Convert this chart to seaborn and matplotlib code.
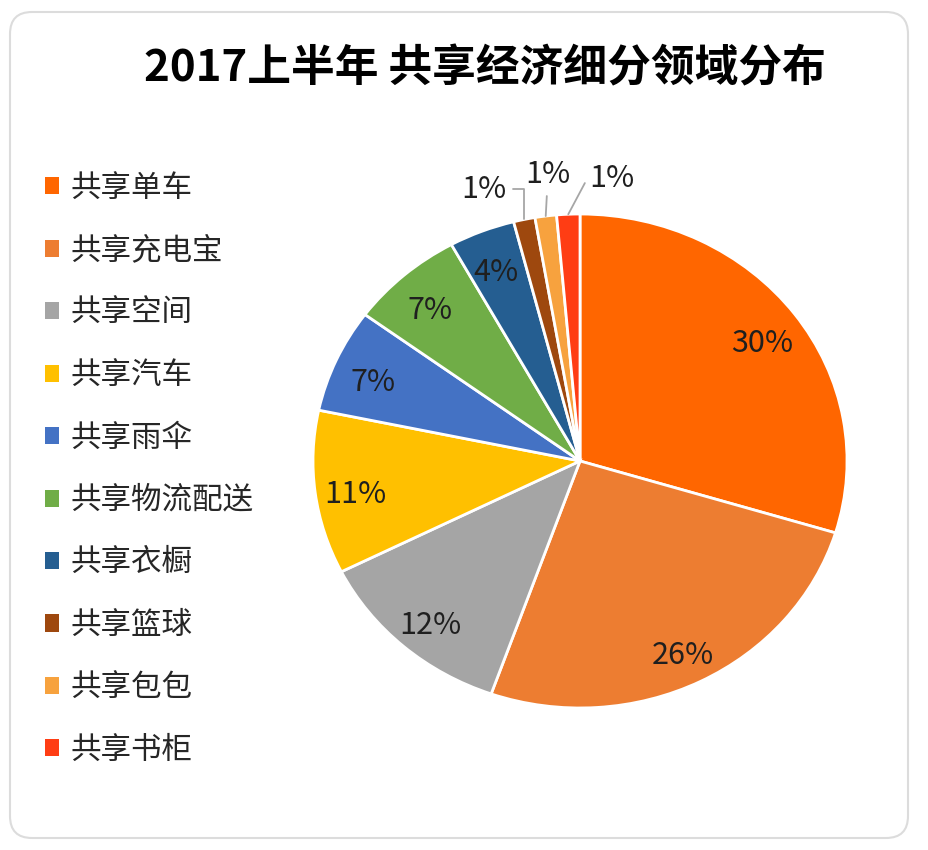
import numpy as np
import matplotlib.pyplot as plt
import matplotlib.patches as mpatches
import matplotlib.transforms as mtransforms
import seaborn as sns

# data (slice sizes in %)
categories = ['共享单车', '共享充电宝', '共享空间', '共享汽车', '共享雨伞',
              '共享物流配送', '共享衣橱', '共享篮球', '共享包包', '共享书柜']
shares = [29.7, 25.7, 12.2, 10.7, 6.8, 6.9, 4.0, 1.3, 1.3, 1.4]
colors = ['#FF6600', '#ED7D31', '#A5A5A5', '#FFC000', '#4472C4',
          '#70AD47', '#255E91', '#9E480E', '#F7A23E', '#FF3D14']
title = '2017上半年 共享经济细分领域分布'

# where the small-slice labels sit (offset from pie centre, in radii)
small_label_pos = {7: (-0.36, 1.10), 8: (-0.12, 1.16), 9: (0.12, 1.145)}
leader_style = {7: 'angle,angleA=0,angleB=90,rad=0',
                8: 'arc3',
                9: 'angle,angleA=0,angleB=62,rad=0'}

sns.set_theme(style='white')
plt.rcParams['font.family'] = ['Noto Sans CJK SC', 'DejaVu Sans']

fig = plt.figure(figsize=(9.29, 8.5), dpi=100)
ax = fig.add_axes([0.2507, 0.0799, 0.7473, 0.7555])

def pct_fmt(p):
    return f'{p:.0f}%' if p >= 2 else ''

wedges, texts, autotexts = ax.pie(
    shares, colors=colors, startangle=90, counterclock=False,
    autopct=pct_fmt, pctdistance=0.85,
    wedgeprops=dict(edgecolor='white', linewidth=2),
    textprops=dict(fontsize=22, color='#1f1f1f'))
ax.set_aspect('auto')
ax.set_xlim(-1.3, 1.3)
ax.set_ylim(-1.3, 1.3)

# nudge the inside labels down a little (font baseline differs)
nudge = mtransforms.ScaledTranslation(0, -7 / 100, fig.dpi_scale_trans)
for t in autotexts:
    t.set_transform(t.get_transform() + nudge)

# outside labels with leader lines for the tiny slices
for i, (tx, ty) in small_label_pos.items():
    w = wedges[i]
    mid = np.deg2rad((w.theta1 + w.theta2) / 2)
    px, py = np.cos(mid), np.sin(mid)
    pct = shares[i] / sum(shares) * 100
    ax.annotate(f'{pct:.0f}%', xy=(px, py), xytext=(tx, ty),
                ha='center', va='center', fontsize=22, color='#1f1f1f',
                arrowprops=dict(arrowstyle='-', color='#a6a6a6', lw=1.3,
                                shrinkA=2, shrinkB=0,
                                connectionstyle=leader_style[i]))

leg = fig.legend(wedges, categories, loc='upper left',
                 bbox_to_anchor=(0.048, 0.797), frameon=False,
                 fontsize=22, handlelength=0.48, handleheight=0.48,
                 handletextpad=0.38, labelspacing=1.03,
                 borderpad=0, borderaxespad=0)
for h in leg.legend_handles:
    h.set_edgecolor('none')

fig.text(0.522, 0.92, title, ha='center', va='center',
         fontsize=31.5, fontweight='bold', color='black')

# light rounded frame around the whole chart
frame = mpatches.FancyBboxPatch((10, 12), 898, 826,
                                boxstyle='round,pad=0,rounding_size=22',
                                transform=mtransforms.IdentityTransform(),
                                facecolor='none', edgecolor='#dcdcdc', lw=1.5)
fig.patches.append(frame)

fig.savefig('out.png', dpi=100)
